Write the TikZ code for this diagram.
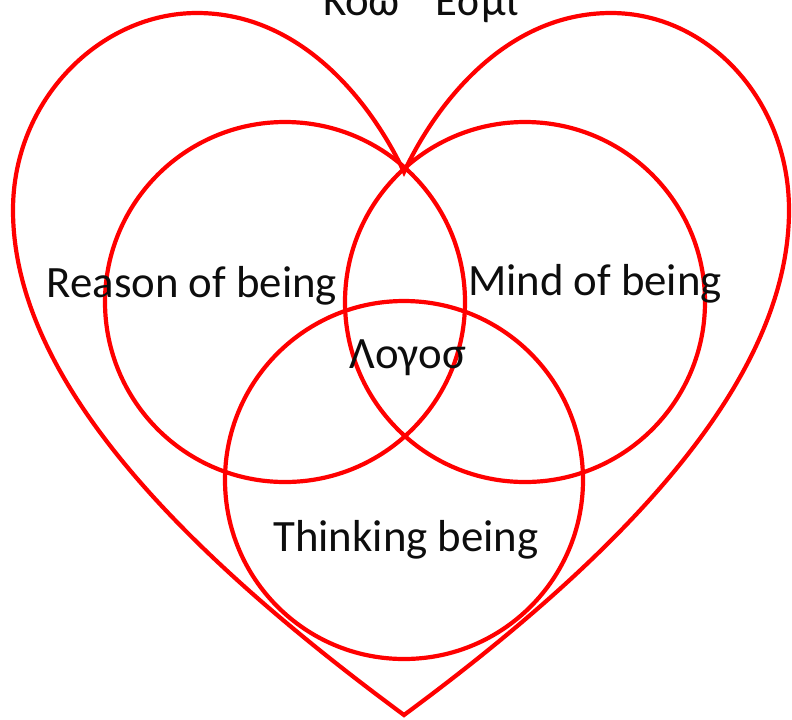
\documentclass[tikz,border=0pt]{standalone}
\usepackage{fontspec}
\setmainfont{Carlito}
\begin{document}
\begin{tikzpicture}[x=0.5pt,y=-0.5pt,
  ring/.style={red,line width=2.1pt},
  lbl/.style={font=\fontsize{22.4}{26}\selectfont,text=black!95,anchor=base,inner sep=0pt}]
\useasboundingbox (0,0) rectangle (792,719);
% ---------- heart ----------
\draw[ring] (404,715) .. controls (194,560) and (13,385) .. (13,210)
  .. controls (13,100) and (100,13) .. (197,13)
  .. controls (300,13) and (370,100) .. (404,172)
  .. controls (438,100) and (508,13) .. (611,13)
  .. controls (708,13) and (789,100) .. (789,210)
  .. controls (789,385) and (614,560) .. (404,715) -- cycle;
% ---------- three circles ----------
\draw[ring] (285,302) circle[radius=180];
\draw[ring] (525,302) circle[radius=180];
\draw[ring] (404,480) circle[radius=179];
% ---------- labels ----------
\node[lbl] (title) at (421,15) {Κοω\hspace{0.8em}Εσμι};
\node[lbl] (reason) at (192,297) {Reason of being};
\node[lbl] (mind) at (595,295) {Mind of being};
\node[lbl] (logos) at (408,368) {Λογοσ};
\node[lbl] (thinking) at (406,551) {Thinking being};
\end{tikzpicture}
\end{document}
